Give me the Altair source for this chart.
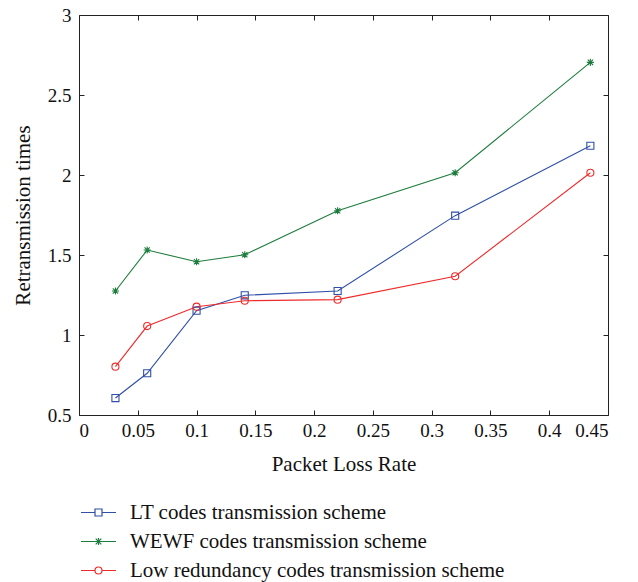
import altair as alt
import pandas as pd

loss_rate = [0.031, 0.058, 0.1, 0.141, 0.22, 0.32, 0.435]
series_names = [
    "LT codes transmission scheme",
    "WEWF codes transmission scheme",
    "Low redundancy codes transmission scheme",
]
lt_values = [0.606, 0.761, 1.152, 1.248, 1.275, 1.746, 2.183]
wewf_values = [1.275, 1.531, 1.458, 1.502, 1.777, 2.014, 2.704]
low_values = [0.802, 1.056, 1.177, 1.214, 1.221, 1.367, 2.014]
x_ticks = [0, 0.05, 0.1, 0.15, 0.2, 0.25, 0.3, 0.35, 0.4, 0.45]
y_ticks = [0.5, 1, 1.5, 2, 2.5, 3]
colors = ["#2f4fa8", "#1d7d3d", "#ee2b2b"]

rows = []
for name, vals in zip(series_names, [lt_values, wewf_values, low_values]):
    for xv, yv in zip(loss_rate, vals):
        rows.append({"rate": xv, "value": yv, "series": name, "legend_series": name})
df = pd.DataFrame(rows)

FONT = "Liberation Serif"
ASTER = "M-1,0H1M0,-1V1M-0.75,-0.75L0.75,0.75M-0.75,0.75L0.75,-0.75"
plot_shapes = ["square", ASTER, "circle"]
leg_shapes = [
    "M-2.5,0H-0.5M0.5,0H2.5M-0.5,-0.5H0.5V0.5H-0.5Z",
    "M-2.5,0H2.5M0,-0.5V0.5M-0.4,-0.4L0.4,0.4M-0.4,0.4L0.4,-0.4",
    "M-2.5,0H-0.5M0.5,0H2.5M0.5,0A0.5,0.5,0,1,1,-0.5,0A0.5,0.5,0,1,1,0.5,0",
]

xscale = alt.Scale(domain=[0, 0.45], nice=False)
yscale = alt.Scale(domain=[0.5, 3], nice=False)

x_main = alt.X("rate:Q", scale=xscale, axis=alt.Axis(
    values=x_ticks, format="~g", title="Packet Loss Rate", offset=-5, tickSize=5,
    domain=False, grid=False, labelPadding=6, titlePadding=13))
y_main = alt.Y("value:Q", scale=yscale, axis=alt.Axis(
    values=y_ticks, format="~g", title="Retransmission times", offset=-5, tickSize=5,
    domain=False, grid=False, labelPadding=8, titlePadding=14))

color_main = alt.Color("series:N", scale=alt.Scale(domain=series_names, range=colors), legend=None)

lines = alt.Chart(df).mark_line(strokeWidth=1.1).encode(
    x=x_main, y=y_main, color=color_main, detail="series:N"
)

points = alt.Chart(df).mark_point(filled=False, size=50, strokeWidth=1.1, opacity=1).encode(
    x=alt.X("rate:Q", scale=xscale, axis=None),
    y=alt.Y("value:Q", scale=yscale, axis=None),
    color=color_main,
    shape=alt.Shape("series:N", scale=alt.Scale(domain=series_names, range=plot_shapes), legend=None),
)

leg = alt.Legend(
    title=None, orient="none", legendX=9, legendY=487, symbolSize=196,
    labelFont=FONT, labelFontSize=21, labelColor="#111", labelOffset=21,
    rowPadding=7, symbolStrokeWidth=1.2, labelLimit=500,
)

legend_layer = alt.Chart(df).transform_filter("false").mark_point(
    filled=False, size=196, strokeWidth=1.2, opacity=1
).encode(
    x=alt.X("rate:Q", scale=xscale, axis=alt.Axis(
        orient="top", values=x_ticks, labels=False, title=None, offset=-5, tickSize=5,
        domain=False, grid=False)),
    y=alt.Y("value:Q", scale=yscale, axis=alt.Axis(
        orient="right", values=y_ticks, labels=False, title=None, offset=-5, tickSize=5,
        domain=False, grid=False)),
    color=alt.Color("legend_series:N", scale=alt.Scale(domain=series_names, range=colors), legend=leg),
    shape=alt.Shape("legend_series:N", scale=alt.Scale(domain=series_names, range=leg_shapes), legend=leg),
)

chart = alt.layer(lines, points, legend_layer).resolve_scale(
    color="independent", shape="independent"
).resolve_axis(x="independent", y="independent").properties(
    width=529, height=400,
    autosize=alt.AutoSizeParams(type="none"),
    padding={"left": 79, "top": 15, "right": 30, "bottom": 167},
).configure_view(stroke="#222", strokeWidth=1).configure_axis(
    tickColor="#222", tickWidth=1,
    labelFont=FONT, labelFontSize=19, labelColor="#111",
    titleFont=FONT, titleFontSize=21, titleFontWeight="normal", titleColor="#111",
)

chart.save("out.html", embed_options={"renderer": "svg", "actions": False})
